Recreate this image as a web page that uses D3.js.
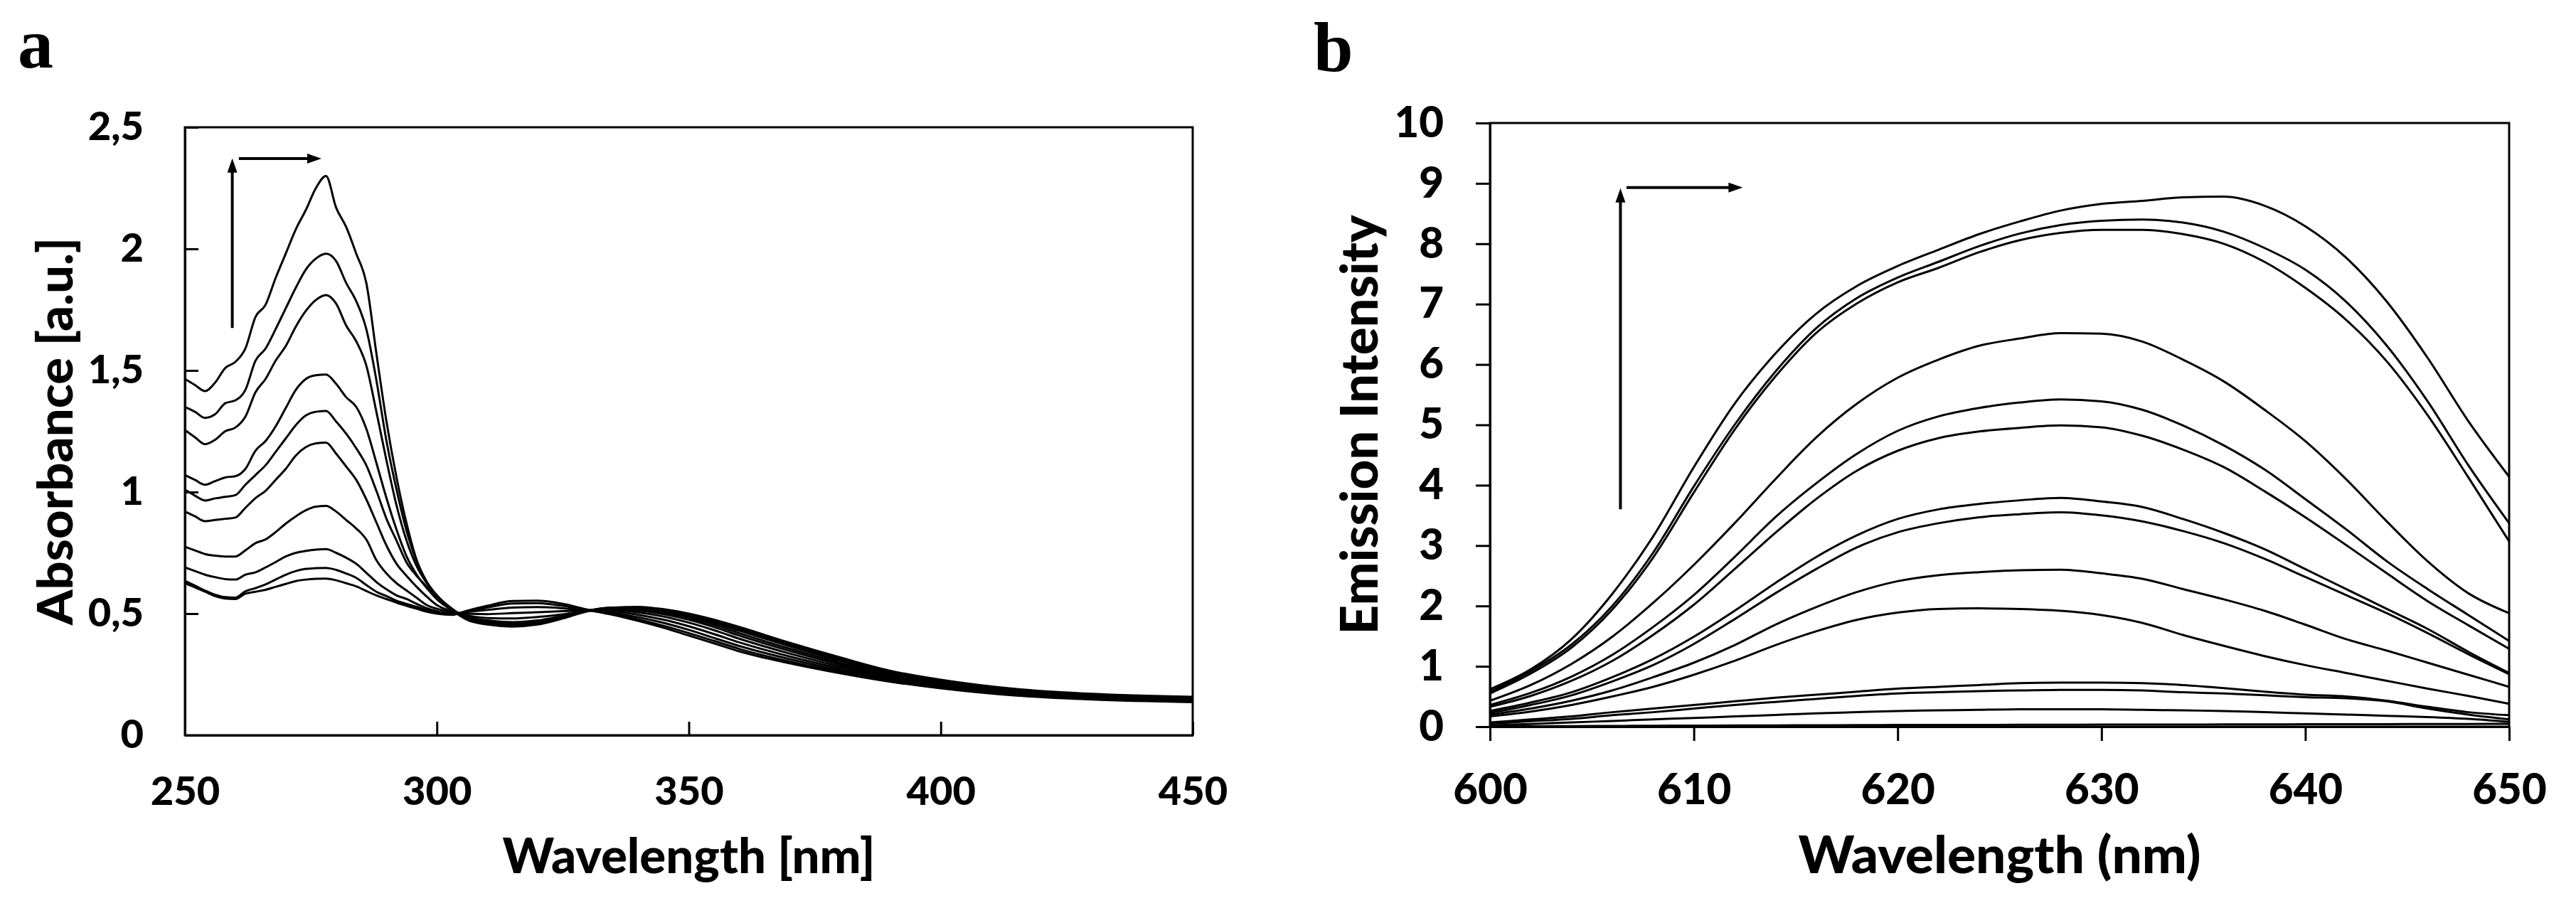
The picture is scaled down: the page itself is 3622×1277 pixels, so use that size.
<!DOCTYPE html>
<html><head><meta charset="utf-8">
<script src="https://cdn.jsdelivr.net/npm/d3@7"></script>
<style>body{margin:0;background:#fff}</style></head>
<body>
<svg id="c" width="3622" height="1277"></svg>
<script>
// ---------- Panel a data (absorbance) ----------
const absWavelengths = [250,252,254,256,258,260,262,264,266,268,270,272,274,276,278,280,282,284,286,288,290,292,294,296,298,300,303,306,310,315,320,325,330,335,340,345,350,355,360,370,380,390,400,415,430,450];
const abs1 = [1.465,1.44,1.415,1.45,1.51,1.535,1.59,1.72,1.77,1.88,1.98,2.08,2.16,2.25,2.30,2.17,2.09,1.98,1.86,1.57,1.29,1.06,0.87,0.72,0.63,0.575,0.515,0.475,0.455,0.447,0.455,0.48,0.51,0.525,0.528,0.518,0.50,0.475,0.445,0.38,0.32,0.265,0.228,0.19,0.17,0.158];
const abs2 = [1.35,1.33,1.305,1.32,1.365,1.377,1.42,1.54,1.59,1.67,1.755,1.84,1.915,1.96,1.98,1.95,1.86,1.785,1.67,1.46,1.21,1.01,0.84,0.715,0.63,0.575,0.52,0.48,0.46,0.45,0.458,0.482,0.512,0.525,0.525,0.514,0.495,0.468,0.437,0.373,0.313,0.26,0.223,0.187,0.167,0.155];
const abs3 = [1.255,1.225,1.197,1.215,1.25,1.265,1.31,1.41,1.465,1.54,1.60,1.68,1.745,1.79,1.81,1.775,1.685,1.62,1.52,1.33,1.13,0.945,0.80,0.695,0.625,0.57,0.52,0.482,0.462,0.453,0.46,0.484,0.512,0.524,0.522,0.51,0.49,0.462,0.43,0.366,0.306,0.255,0.219,0.184,0.164,0.152];
const abs4 = [1.07,1.05,1.03,1.045,1.06,1.065,1.095,1.17,1.21,1.27,1.345,1.42,1.465,1.48,1.483,1.445,1.39,1.35,1.26,1.12,0.975,0.845,0.735,0.66,0.605,0.56,0.515,0.485,0.467,0.458,0.465,0.487,0.512,0.522,0.518,0.505,0.483,0.454,0.42,0.356,0.298,0.25,0.215,0.18,0.161,0.15];
const abs5 = [1.01,0.985,0.965,0.974,0.98,0.987,1.03,1.07,1.11,1.165,1.22,1.275,1.315,1.33,1.333,1.29,1.24,1.18,1.11,1.005,0.89,0.80,0.71,0.655,0.61,0.56,0.515,0.488,0.472,0.465,0.472,0.49,0.513,0.52,0.513,0.498,0.475,0.445,0.41,0.347,0.291,0.245,0.211,0.177,0.158,0.147];
const abs6 = [0.92,0.90,0.88,0.885,0.89,0.895,0.935,0.975,1.005,1.05,1.095,1.15,1.185,1.20,1.203,1.158,1.105,1.05,0.97,0.875,0.78,0.705,0.655,0.61,0.57,0.535,0.51,0.493,0.482,0.48,0.486,0.497,0.513,0.515,0.505,0.488,0.463,0.432,0.397,0.336,0.283,0.24,0.207,0.174,0.156,0.145];
const abs7 = [0.775,0.76,0.745,0.738,0.735,0.735,0.76,0.79,0.805,0.835,0.87,0.90,0.925,0.94,0.943,0.92,0.885,0.85,0.805,0.72,0.665,0.625,0.595,0.565,0.535,0.52,0.505,0.50,0.498,0.502,0.506,0.51,0.514,0.51,0.495,0.475,0.448,0.416,0.382,0.324,0.275,0.234,0.203,0.171,0.153,0.142];
const abs8 = [0.69,0.675,0.66,0.65,0.642,0.64,0.66,0.67,0.69,0.712,0.735,0.75,0.758,0.763,0.765,0.75,0.73,0.705,0.668,0.63,0.60,0.575,0.56,0.54,0.522,0.51,0.50,0.507,0.515,0.525,0.527,0.522,0.513,0.503,0.485,0.462,0.433,0.40,0.367,0.313,0.267,0.228,0.199,0.168,0.151,0.14];
const abs9 = [0.635,0.615,0.595,0.578,0.568,0.566,0.592,0.605,0.62,0.64,0.66,0.675,0.684,0.687,0.688,0.68,0.665,0.647,0.618,0.59,0.572,0.553,0.54,0.528,0.515,0.505,0.497,0.51,0.525,0.542,0.543,0.532,0.514,0.498,0.476,0.45,0.42,0.388,0.355,0.303,0.26,0.223,0.195,0.165,0.149,0.138];
const abs10 = [0.625,0.608,0.59,0.572,0.562,0.56,0.582,0.59,0.598,0.61,0.622,0.634,0.64,0.643,0.644,0.637,0.625,0.612,0.593,0.575,0.56,0.545,0.532,0.52,0.508,0.50,0.495,0.512,0.532,0.552,0.553,0.54,0.516,0.495,0.47,0.442,0.41,0.378,0.345,0.296,0.255,0.22,0.193,0.163,0.147,0.136];
const absSeries = [abs1,abs2,abs3,abs4,abs5,abs6,abs7,abs8,abs9,abs10];
const absXTicks = [250,300,350,400,450];
const absYTicks = [0,0.5,1,1.5,2,2.5];
const absYTickLabels = ["0","0,5","1","1,5","2","2,5"];
const absArrowUp = [[259.4,1.675],[259.4,2.372]];
const absArrowRight = [[260.7,2.371],[277.1,2.371]];

// ---------- Panel b data (emission) ----------
const emWavelengths = [600,602,604,606,608,610,612,614,616,618,620,622,624,626,628,630,632,634,636,638,640,642,644,646,648,650];
const em1 = [0.62,0.95,1.45,2.2,3.15,4.3,5.35,6.18,6.84,7.3,7.63,7.9,8.16,8.37,8.55,8.66,8.71,8.77,8.78,8.63,8.29,7.77,7.04,6.11,5.06,4.14];
const em2 = [0.58,0.92,1.36,2.0,2.88,3.98,5.0,5.88,6.6,7.1,7.44,7.70,7.96,8.17,8.31,8.38,8.40,8.35,8.20,7.93,7.57,7.04,6.31,5.39,4.33,3.37];
const em3 = [0.55,0.88,1.31,1.94,2.8,3.88,4.92,5.8,6.52,7.01,7.36,7.60,7.86,8.06,8.18,8.23,8.23,8.16,8.0,7.70,7.27,6.74,6.05,5.16,4.13,3.07];
const em4 = [0.43,0.69,1.04,1.49,2.05,2.68,3.37,4.10,4.79,5.35,5.78,6.08,6.31,6.43,6.52,6.51,6.38,6.08,5.72,5.25,4.73,4.10,3.40,2.74,2.21,1.88];
const em5 = [0.36,0.56,0.83,1.19,1.65,2.18,2.81,3.47,4.03,4.52,4.90,5.14,5.28,5.37,5.42,5.39,5.25,4.99,4.66,4.26,3.77,3.27,2.74,2.28,1.85,1.42];
const em6 = [0.33,0.51,0.76,1.09,1.52,2.02,2.61,3.21,3.77,4.24,4.57,4.78,4.89,4.95,4.99,4.96,4.82,4.59,4.30,3.90,3.47,3.01,2.54,2.08,1.68,1.29];
const em7 = [0.26,0.40,0.57,0.82,1.12,1.49,1.92,2.38,2.81,3.17,3.44,3.60,3.69,3.75,3.79,3.73,3.64,3.44,3.21,2.94,2.61,2.28,1.95,1.62,1.24,0.89];
const em8 = [0.23,0.36,0.52,0.75,1.02,1.37,1.78,2.21,2.61,2.97,3.22,3.37,3.47,3.52,3.55,3.50,3.40,3.24,3.04,2.78,2.48,2.18,1.88,1.55,1.2,0.87];
const em9 = [0.20,0.30,0.43,0.60,0.82,1.06,1.35,1.69,1.98,2.23,2.41,2.51,2.56,2.59,2.60,2.54,2.45,2.28,2.11,1.92,1.69,1.45,1.26,1.06,0.86,0.66];
const em10 = [0.17,0.25,0.36,0.50,0.66,0.86,1.09,1.35,1.58,1.77,1.89,1.95,1.96,1.95,1.92,1.85,1.72,1.52,1.34,1.17,1.02,0.89,0.76,0.63,0.51,0.38];
const em11 = [0.07,0.12,0.17,0.24,0.30,0.36,0.42,0.48,0.53,0.58,0.63,0.66,0.69,0.72,0.73,0.73,0.72,0.69,0.64,0.58,0.53,0.50,0.43,0.33,0.24,0.19];
const em12 = [0.05,0.09,0.13,0.19,0.24,0.30,0.36,0.41,0.46,0.51,0.55,0.57,0.59,0.60,0.61,0.61,0.60,0.57,0.55,0.52,0.49,0.47,0.42,0.30,0.20,0.12];
const em13 = [0.02,0.045,0.07,0.095,0.12,0.145,0.17,0.195,0.22,0.24,0.26,0.27,0.28,0.29,0.29,0.29,0.28,0.27,0.26,0.24,0.22,0.20,0.18,0.16,0.13,0.08];
const em14 = [0.0,0.005,0.01,0.012,0.015,0.018,0.02,0.022,0.024,0.026,0.028,0.03,0.03,0.032,0.033,0.034,0.035,0.036,0.037,0.038,0.04,0.04,0.042,0.044,0.045,0.047];
const emSeries = [em1,em2,em3,em4,em5,em6,em7,em8,em9,em10,em11,em12,em13,em14];
const emXTicks = [600,610,620,630,640,650];
const emYTicks = [0,1,2,3,4,5,6,7,8,9,10];
const emArrowUp = [[606.4,3.6],[606.4,8.92]];
const emArrowRight = [[606.7,8.93],[612.4,8.93]];

// ---------- Drawing ----------
const svg = d3.select('#c');
svg.append('rect').attr('width',3622).attr('height',1277).attr('fill','#fff');
const TICKFONT = 'Lato, "Open Sans", sans-serif';

function arrow(g, x, y, pts, vertical) {
  const [p0, p1] = pts;
  const X0 = x(p0[0]), Y0 = y(p0[1]), X1 = x(p1[0]), Y1 = y(p1[1]);
  const head = 20, half = 7;
  if (vertical) {
    g.append('line').attr('x1',X0).attr('y1',Y0).attr('x2',X1).attr('y2',Y1+head-2)
      .attr('stroke','#000').attr('stroke-width',4);
    g.append('path').attr('d',`M${X1},${Y1} L${X1-half},${Y1+head} L${X1+half},${Y1+head} Z`).attr('fill','#000');
  } else {
    g.append('line').attr('x1',X0).attr('y1',Y0).attr('x2',X1-head+2).attr('y2',Y1)
      .attr('stroke','#000').attr('stroke-width',4);
    g.append('path').attr('d',`M${X1},${Y1} L${X1-head},${Y1-half} L${X1-head},${Y1+half} Z`).attr('fill','#000');
  }
}

function styleAxis(g, size) {
  g.attr('font-family', TICKFONT).attr('font-size', size).attr('font-weight', 900);
  g.selectAll('text').attr('fill','#000');
  g.selectAll('line').attr('stroke','#000').attr('stroke-width',3);
  g.select('.domain').attr('stroke','#000').attr('stroke-width',3);
}

// Panel a
(function(){
  const L=260, R=1677, T=179, B=1034;
  const x = d3.scaleLinear().domain([250,450]).range([L,R]);
  const y = d3.scaleLinear().domain([0,2.5]).range([B,T]);
  const g = svg.append('g');
  const line = d3.line().x(d=>x(d[0])).y(d=>y(d[1])).curve(d3.curveMonotoneX);
  g.append('g').selectAll('path').data(absSeries).join('path')
    .attr('d', s => line(absWavelengths.map((w,i)=>[w,s[i]])))
    .attr('fill','none').attr('stroke','#000').attr('stroke-width',3);
  const ya = g.append('g').attr('transform',`translate(${L},0)`)
    .call(d3.axisLeft(y).tickValues(absYTicks).tickSize(-19).tickSizeOuter(0).tickPadding(58)
      .tickFormat((d,i)=>absYTickLabels[i]));
  styleAxis(ya, 56);
  const xa = g.append('g').attr('transform',`translate(0,${B})`)
    .call(d3.axisBottom(x).tickValues(absXTicks).tickSize(-19).tickSizeOuter(0).tickPadding(58)
      .tickFormat(d3.format('d')));
  styleAxis(xa, 56);
  g.append('rect').attr('x',L).attr('y',T).attr('width',R-L).attr('height',B-T)
    .attr('fill','none').attr('stroke','#000').attr('stroke-width',3);
  arrow(g, x, y, absArrowUp, true);
  arrow(g, x, y, absArrowRight, false);
  g.append('text').attr('x',(L+R)/2).attr('y',1228).attr('text-anchor','middle')
    .attr('font-family',TICKFONT).attr('font-weight',900).attr('font-size',68)
    .attr('textLength',524).attr('lengthAdjust','spacingAndGlyphs').text('Wavelength [nm]');
  g.append('text').attr('transform',`translate(102,${(T+B)/2}) rotate(-90)`).attr('text-anchor','middle')
    .attr('font-family',TICKFONT).attr('font-weight',900).attr('font-size',68)
    .attr('textLength',545).attr('lengthAdjust','spacingAndGlyphs').text('Absorbance [a.u.]');
  g.append('text').attr('x',25).attr('y',95)
    .attr('font-family','"Liberation Serif", "DejaVu Serif", serif').attr('font-weight',700).attr('font-size',100).text('a');
})();

// Panel b
(function(){
  const L=2095, R=3528, T=173, B=1022;
  const x = d3.scaleLinear().domain([600,650]).range([L,R]);
  const y = d3.scaleLinear().domain([0,10]).range([B,T]);
  const g = svg.append('g');
  const line = d3.line().x(d=>x(d[0])).y(d=>y(d[1])).curve(d3.curveMonotoneX);
  g.append('g').selectAll('path').data(emSeries).join('path')
    .attr('d', s => line(emWavelengths.map((w,i)=>[w,s[i]])))
    .attr('fill','none').attr('stroke','#000').attr('stroke-width',3);
  const ya = g.append('g').attr('transform',`translate(${L},0)`)
    .call(d3.axisLeft(y).tickValues(emYTicks).tickSize(20).tickSizeOuter(0).tickPadding(45)
      .tickFormat(d3.format('d')));
  styleAxis(ya, 60);
  const xa = g.append('g').attr('transform',`translate(0,${B})`)
    .call(d3.axisBottom(x).tickValues(emXTicks).tickSize(20).tickSizeOuter(0).tickPadding(46)
      .tickFormat(d3.format('d')));
  styleAxis(xa, 60);
  g.append('rect').attr('x',L).attr('y',T).attr('width',R-L).attr('height',B-T)
    .attr('fill','none').attr('stroke','#000').attr('stroke-width',3);
  arrow(g, x, y, emArrowUp, true);
  arrow(g, x, y, emArrowRight, false);
  g.append('text').attr('x',(L+R)/2).attr('y',1228).attr('text-anchor','middle')
    .attr('font-family',TICKFONT).attr('font-weight',900).attr('font-size',72)
    .attr('textLength',566).attr('lengthAdjust','spacingAndGlyphs').text('Wavelength (nm)');
  g.append('text').attr('transform',`translate(1937,${(T+B)/2}) rotate(-90)`).attr('text-anchor','middle')
    .attr('font-family',TICKFONT).attr('font-weight',900).attr('font-size',72)
    .attr('textLength',590).attr('lengthAdjust','spacingAndGlyphs').text('Emission Intensity');
  g.append('text').attr('x',1847).attr('y',100)
    .attr('font-family','"Liberation Serif", "DejaVu Serif", serif').attr('font-weight',700).attr('font-size',100).text('b');
})();
</script>
</body></html>
